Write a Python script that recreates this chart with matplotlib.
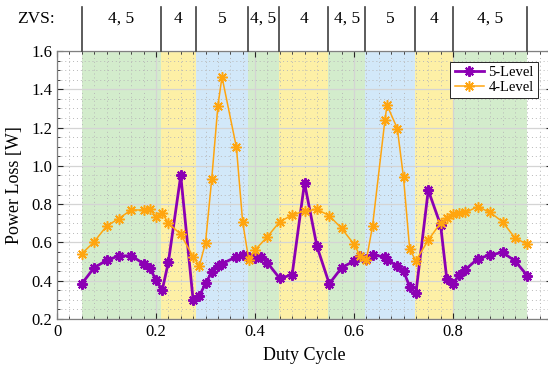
import matplotlib
matplotlib.use("Agg")
import matplotlib.pyplot as plt
from matplotlib.ticker import MultipleLocator

plt.rcParams['font.family'] = ['Liberation Serif', 'DejaVu Serif']
plt.rcParams['mathtext.fontset'] = 'stix'

# 5-level converter losses
duty5 = [0.05, 0.075, 0.1, 0.125, 0.15, 0.175, 0.1875, 0.2, 0.2125, 0.225,
         0.25, 0.275, 0.2875, 0.3, 0.3125, 0.325, 0.3333, 0.3625, 0.375, 0.3875,
         0.4, 0.4125, 0.425, 0.45, 0.475, 0.5, 0.525, 0.55, 0.575, 0.6,
         0.6125, 0.625, 0.6375, 0.6625, 0.6667, 0.6875, 0.7, 0.7125, 0.725, 0.75,
         0.775, 0.7875, 0.8, 0.8125, 0.825, 0.85, 0.875, 0.9, 0.925, 0.95]
loss5 = [0.384, 0.468, 0.506, 0.530, 0.530, 0.489, 0.466, 0.404, 0.350, 0.497,
         0.950, 0.298, 0.320, 0.386, 0.444, 0.478, 0.489, 0.525, 0.534, 0.525,
         0.517, 0.525, 0.494, 0.412, 0.431, 0.911, 0.581, 0.384, 0.468, 0.503,
         0.529, 0.512, 0.534, 0.525, 0.508, 0.478, 0.451, 0.369, 0.334, 0.873,
         0.690, 0.408, 0.383, 0.432, 0.458, 0.515, 0.534, 0.548, 0.504, 0.427]

# 4-level converter losses
duty4 = [0.05, 0.075, 0.1, 0.125, 0.15, 0.175, 0.1875, 0.2, 0.2125, 0.225,
         0.25, 0.275, 0.2875, 0.3, 0.3125, 0.325, 0.3333, 0.3625, 0.375, 0.3875,
         0.4, 0.425, 0.45, 0.475, 0.5, 0.525, 0.55, 0.575, 0.6, 0.6125,
         0.625, 0.6375, 0.6625, 0.6667, 0.6875, 0.7, 0.7125, 0.725, 0.75, 0.775,
         0.7875, 0.8, 0.8125, 0.825, 0.85, 0.875, 0.9, 0.925, 0.95]
loss4 = [0.541, 0.603, 0.685, 0.725, 0.770, 0.769, 0.774, 0.734, 0.752, 0.701,
         0.642, 0.525, 0.477, 0.598, 0.929, 1.312, 1.465, 1.096, 0.708, 0.508,
         0.560, 0.630, 0.708, 0.743, 0.764, 0.773, 0.740, 0.673, 0.591, 0.529,
         0.508, 0.687, 1.239, 1.317, 1.195, 0.940, 0.565, 0.504, 0.612, 0.702,
         0.728, 0.748, 0.755, 0.757, 0.786, 0.757, 0.708, 0.624, 0.590]

# ZVS regions along the duty cycle
zvs_edges = [0.05, 0.21, 0.28, 0.386, 0.448, 0.548, 0.622, 0.723, 0.8, 0.95]
zvs_labels = ['4, 5', '4', '5', '4, 5', '4', '4, 5', '5', '4', '4, 5']

zvs_colors = {'4, 5': '#d3eccc', '4': '#fdf0a6', '5': '#d2e8f9'}

W, H = 548, 369
fig = plt.figure(figsize=(W / 100, H / 100), dpi=100)
ax = fig.add_axes([57 / W, (H - 319) / H, (552 - 57) / W, (319 - 51) / H])

for lo, hi, lab in zip(zvs_edges[:-1], zvs_edges[1:], zvs_labels):
    ax.axvspan(lo, hi, color=zvs_colors[lab], lw=0, zorder=0)

# asterisk markers with 8 arms
star = (8, 2, 0)
ax.plot(duty5, loss5, color='#8c00b4', lw=2.0, marker=star, ms=7.5,
        mew=1.5, label='5-Level', zorder=3)
ax.plot(duty4, loss4, color='#ffa50f', lw=1.1, marker=star, ms=7.5,
        mew=1.1, label='4-Level', zorder=3)

ax.set_xlim(0, 1)
ax.set_ylim(0.2, 1.6)
ax.xaxis.set_major_locator(MultipleLocator(0.2))
ax.xaxis.set_minor_locator(MultipleLocator(0.025))
ax.yaxis.set_major_locator(MultipleLocator(0.2))
ax.yaxis.set_minor_locator(MultipleLocator(0.05))
ax.set_xticks([0, 0.2, 0.4, 0.6, 0.8])
ax.set_xticklabels(['0', '0.2', '0.4', '0.6', '0.8'])
ax.set_yticklabels([f'{v:.1f}' for v in ax.get_yticks()])

ax.grid(which='major', color='#d4d4d4', lw=0.9, zorder=1)
ax.grid(which='minor', color='#b8b8b8', lw=0.7, ls=(0, (1, 3)), zorder=1)
ax.tick_params(which='both', direction='in', top=True, right=True,
               colors='#262626', labelsize=12, labelcolor='black')
ax.tick_params(which='major', length=4, width=0.8)
ax.tick_params(which='minor', length=2, width=0.6)
for s in ax.spines.values():
    s.set_color('#808080')
    s.set_linewidth(0.9)

ax.set_xlabel('Duty Cycle', fontsize=13, labelpad=5)
ax.set_ylabel('Power Loss [W]', fontsize=13, labelpad=6)

leg = ax.legend(loc='upper right', bbox_to_anchor=(0.972, 0.96),
                borderaxespad=0, fancybox=False, framealpha=1,
                edgecolor='#262626', fontsize=10.5, handlelength=2.0,
                borderpad=0.3, labelspacing=0.1, handletextpad=0.3)
leg.get_frame().set_linewidth(0.7)

# ZVS header above the plot
for e in zvs_edges:
    ax.plot([e, e], [1.6, 1.6 + 44 / 268 * 1.4], color='#404040', lw=1.2,
            clip_on=False, zorder=4)
for lo, hi, lab in zip(zvs_edges[:-1], zvs_edges[1:], zvs_labels):
    ax.text((lo + hi) / 2, 1.6 + 32 / 268 * 1.4, lab, ha='center',
            va='center', fontsize=12.5, clip_on=False)
ax.text(-0.042, 1.6 + 32 / 268 * 1.4, 'ZVS:', ha='center', va='center',
        fontsize=12.5, clip_on=False)

fig.savefig('out.png', dpi=100)
